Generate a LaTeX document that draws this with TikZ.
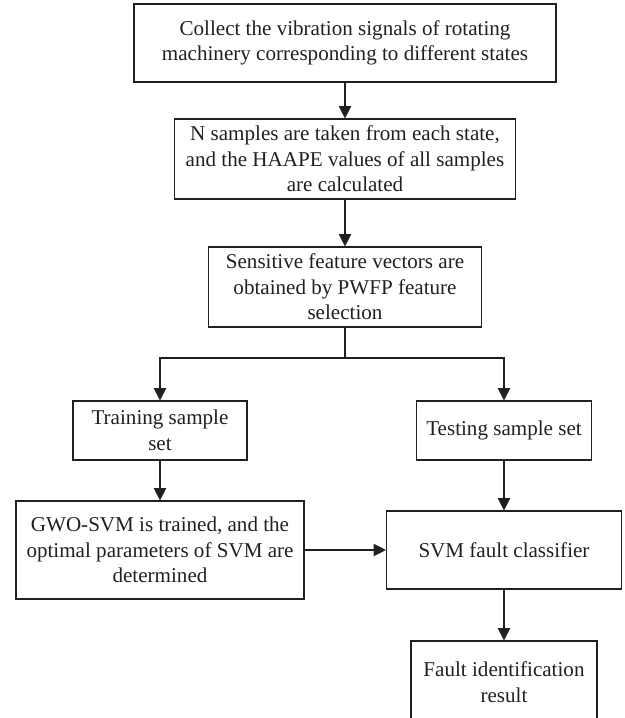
\documentclass[tikz,border=0pt]{standalone}
\usepackage{fontspec}
\setmainfont{Liberation Serif}
\usetikzlibrary{arrows.meta}
\definecolor{ink}{HTML}{231F20}
\tikzset{
    stepbox/.style={draw=ink,line width=0.65pt,text=ink,align=center,inner sep=0pt,
        font=\fontsize{12}{14.6}\selectfont},
    arr/.style={draw=ink,line width=0.65pt,-{Triangle[length=7pt,width=7pt]}}
}
\begin{document}
\begin{tikzpicture}[x=0.02cm,y=-0.02cm]
        \useasboundingbox (0,0) rectangle (625,718);
        %% Main chain
        \node[stepbox,minimum width=8.44cm,minimum height=1.56cm] (collect) at (345,43)
            {Collect the vibration signals of rotating\\machinery corresponding to different states};
        \node[stepbox,minimum width=6.82cm,minimum height=1.6cm] (samples) at (345,159)
            {N samples are taken from each state,\\and the HAAPE values of all samples\\are calculated};
        \node[stepbox,minimum width=5.46cm,minimum height=1.6cm] (select) at (345,287)
            {Sensitive feature vectors are\\obtained by PWFP feature\\selection};
        %% Two branches
        \node[stepbox,minimum width=3.48cm,minimum height=1.18cm] (train) at (160,430.5)
            {Training sample\\set};
        \node[stepbox,minimum width=3.5cm,minimum height=1.18cm] (test) at (504,430.5)
            {Testing sample set};
        \node[stepbox,minimum width=5.76cm,minimum height=1.96cm] (gwo) at (160,550)
            {GWO-SVM is trained, and the\\optimal parameters of SVM are\\determined};
        \node[stepbox,minimum width=4.7cm,minimum height=1.56cm] (svm) at (504,550)
            {SVM fault classifier};
        \node[stepbox,minimum width=3.72cm,minimum height=1.64cm] (fault) at (504,682)
            {Fault identification\\result};
        \coordinate (split) at (345,358);
        %% Connectors
        \draw[arr] (collect) -- (samples);
        \draw[arr] (samples) -- (select);
        \draw[draw=ink,line width=0.65pt] (select) -- (split);
        \foreach \t in {train,test}
            \draw[arr] (split) -| (\t);
        \draw[arr] (train) -- (gwo);
        \draw[arr] (test) -- (svm);
        \draw[arr] (gwo) -- (svm);
        \draw[arr] (svm) -- (fault);
    \end{tikzpicture}
\end{document}
